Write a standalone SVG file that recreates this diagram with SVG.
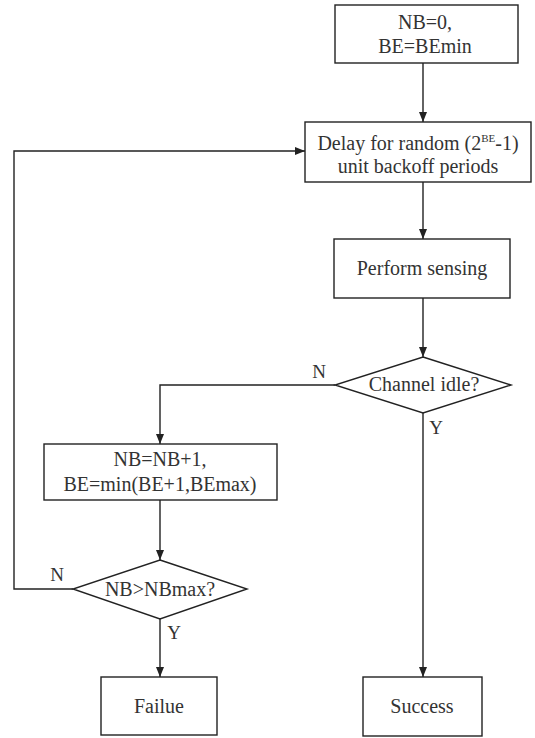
<svg xmlns="http://www.w3.org/2000/svg" width="535" height="738" viewBox="0 0 535 738">
<defs>
<style>
.box{fill:#fff;stroke:#222;stroke-width:1.4}
.ln{fill:none;stroke:#222;stroke-width:1.4;marker-end:url(#ah)}
text{font-family:"Liberation Serif","Times New Roman",serif;font-size:20px;fill:#333;text-anchor:middle}
.lbl{font-size:19px}
</style>
<marker id="ah" markerWidth="10" markerHeight="10" refX="10" refY="5" orient="auto" markerUnits="userSpaceOnUse">
<path d="M0,1 L10,5 L0,9 Z" fill="#222"/>
</marker>
</defs>
<rect width="535" height="738" fill="#fff"/>
<g id="connectors">
<path class="ln" d="M423,63 V122"/>
<path class="ln" d="M423,182 V239"/>
<path class="ln" d="M423,298 V357"/>
<path class="ln" d="M335,385 H160 V444"/>
<path class="ln" d="M423,413 V677"/>
<path class="ln" d="M160,500 V560"/>
<path class="ln" d="M73,589 H14 V151 H305"/>
<path class="ln" d="M160,619 V677"/>
<text class="lbl" x="319" y="378">N</text>
<text class="lbl" x="436" y="434">Y</text>
<text class="lbl" x="57" y="581">N</text>
<text class="lbl" x="174" y="639">Y</text>
</g>
<g id="init">
<rect class="box" x="335" y="5" width="183" height="58"/>
<text x="425" y="29">NB=0,</text>
<text x="425" y="53">BE=BEmin</text>
</g>
<g id="delay">
<rect class="box" x="305" y="122" width="226" height="60"/>
<text x="418" y="150">Delay for random (2<tspan font-size="11" dy="-8">BE</tspan><tspan dy="8">-1)</tspan></text>
<text x="418" y="173">unit backoff periods</text>
</g>
<g id="sensing">
<rect class="box" x="334" y="239" width="176" height="59"/>
<text x="422" y="275">Perform sensing</text>
</g>
<g id="idle">
<polygon class="box" points="423,357 511,385 423,413 335,385"/>
<text x="424" y="391">Channel idle?</text>
</g>
<g id="update">
<rect class="box" x="44" y="444" width="233" height="56"/>
<text x="160" y="466">NB=NB+1,</text>
<text x="160" y="491">BE=min(BE+1,BEmax)</text>
</g>
<g id="nbmax">
<polygon class="box" points="160,560 247,589 160,619 73,589"/>
<text x="160" y="596">NB&gt;NBmax?</text>
</g>
<g id="failure">
<rect class="box" x="101" y="677" width="116" height="58"/>
<text x="159" y="713">Failue</text>
</g>
<g id="success">
<rect class="box" x="363" y="677" width="119" height="59"/>
<text x="422" y="713">Success</text>
</g>
</svg>
